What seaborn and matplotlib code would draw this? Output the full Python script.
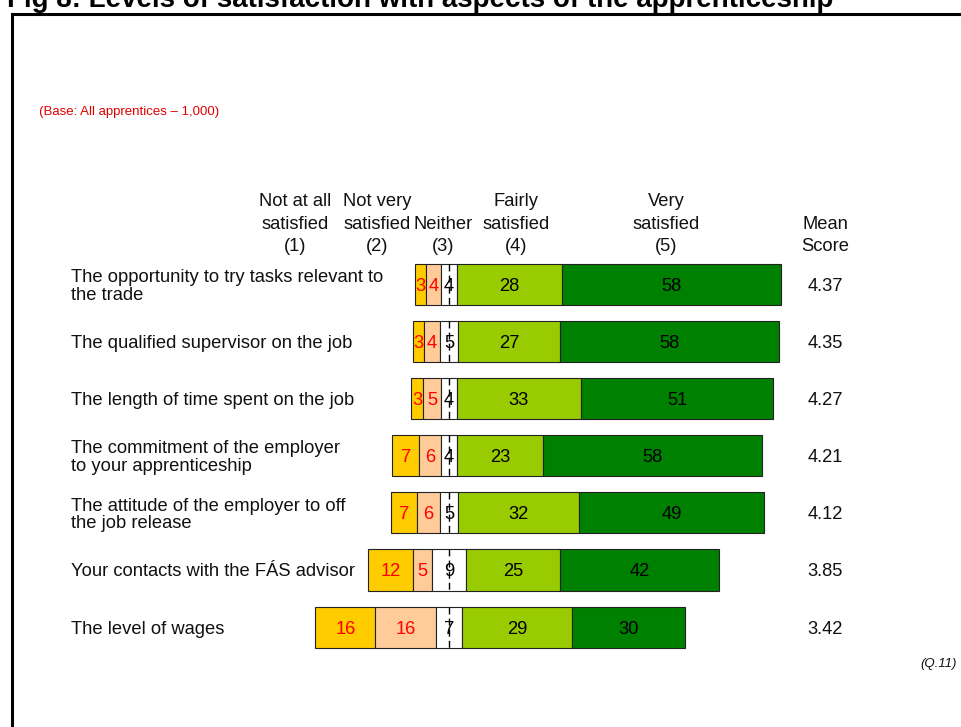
import numpy as np
import pandas as pd
import matplotlib
matplotlib.use("Agg")
import matplotlib.pyplot as plt
from matplotlib.patches import Rectangle
import seaborn as sns

# ---- data -------------------------------------------------------------
categories = [
    "The opportunity to try tasks relevant to\nthe trade",
    "The qualified supervisor on the job",
    "The length of time spent on the job",
    "The commitment of the employer\nto your apprenticeship",
    "The attitude of the employer to off\nthe job release",
    "Your contacts with the FÁS advisor",
    "The level of wages",
]
not_at_all = [3, 3, 3, 7, 7, 12, 16]
not_very = [4, 4, 5, 6, 6, 5, 16]
neither = [4, 5, 4, 4, 5, 9, 7]
fairly = [28, 27, 33, 23, 32, 25, 29]
very = [58, 58, 51, 58, 49, 42, 30]
mean_scores = [4.37, 4.35, 4.27, 4.21, 4.12, 3.85, 3.42]

header_top = ["Not at all", "Not very", "", "Fairly", "Very", ""]
header_mid = ["satisfied", "satisfied", "Neither", "satisfied", "satisfied", "Mean"]
header_bot = ["(1)", "(2)", "(3)", "(4)", "(5)", "Score"]

title = "Fig 8: Levels of satisfaction with aspects of the apprenticeship"
base_note = "(Base: All apprentices \u2013 1,000)"
source_note = "(Q.11)"

# ---- style ------------------------------------------------------------
sns.set_style("white")
plt.rcParams["font.family"] = ["Liberation Sans", "DejaVu Sans"]

colors = ["#FFCC00", "#FFCC99", "#FFFFFF", "#99CC00", "#008000"]
value_colors = ["#FF0000", "#FF0000", "#000000", "#000000", "#000000"]
FS = 13.2

W, H = 962, 727
fig = plt.figure(figsize=(W / 100, H / 100), dpi=100)
ax = fig.add_axes([0, 0, 1, 1])

# pixel helpers for the annotation layout
UNIT = 3.77          # pixels per percentage point
CX = 449             # pixel column of the neutral midpoint
ROW0, ROWSTEP = 284.5, 57.1


def fx(px):
    return px / W


def fy(py):
    return 1 - py / H


# ---- diverging stacked bars ------------------------------------------
nat = np.array(not_at_all, dtype=float)
nv = np.array(not_very, dtype=float)
ne = np.array(neither, dtype=float)
fa = np.array(fairly, dtype=float)
ve = np.array(very, dtype=float)

layers = [
    (nat, -(ne / 2 + nv + nat)),
    (nv, -(ne / 2 + nv)),
    (ne, -ne / 2),
    (fa, ne / 2),
    (ve, ne / 2 + fa),
]

bar_h = 0.72
for k, (vals, lefts) in enumerate(layers):
    df = pd.DataFrame({"item": categories, "pct": vals})
    sns.barplot(
        data=df, y="item", x="pct", order=categories, orient="h",
        color=colors[k], saturation=1, left=lefts, width=bar_h,
        edgecolor="#222222", linewidth=0.8, errorbar=None, ax=ax,
    )
    for i, (v, l) in enumerate(zip(vals, lefts)):
        ax.text(l + v / 2, i, f"{int(v)}", ha="center", va="center_baseline",
                fontsize=FS, color=value_colors[k], zorder=5)

# dashed neutral midline through each bar
for i in range(len(categories)):
    ax.vlines(0, i - bar_h / 2, i + bar_h / 2, colors="#000000",
              linestyles=(0, (5, 3)), linewidth=1.0, zorder=4)

ax.set_xlim(-CX / UNIT, (W - CX) / UNIT)
ax.set_ylim((H - ROW0) / ROWSTEP, -ROW0 / ROWSTEP)
ax.set_axis_off()

# ---- row labels and mean scores --------------------------------------
for i, (cat, m) in enumerate(zip(categories, mean_scores)):
    y = fy(ROW0 + i * ROWSTEP + 2)
    fig.text(fx(71), y, cat, ha="left", va="center", fontsize=FS,
             color="#111111", linespacing=1.05)
    fig.text(fx(825), y, f"{m:.2f}", ha="center", va="center", fontsize=FS,
             color="#111111")

# ---- column headers --------------------------------------------------
header_x = [295, 377, 443, 516, 666, 825]
for x, t, m, b in zip(header_x, header_top, header_mid, header_bot):
    for line, py in ((t, 202), (m, 224), (b, 246)):
        if line:
            fig.text(fx(x), fy(py), line, ha="center", va="center",
                     fontsize=FS, color="#111111")

# ---- title, notes and frame ------------------------------------------
fig.text(fx(7), fy(7), title, ha="left", va="baseline", fontsize=20,
         fontweight="bold", color="#000000")
fig.text(fx(39), fy(112), base_note, ha="left", va="center", fontsize=9.5,
         color="#E00000")
fig.text(fx(957), fy(664), source_note, ha="right", va="center", fontsize=9.5,
         style="italic", color="#111111")

fig.patches.append(Rectangle((fx(12), -0.1), 2, fy(13.5) + 0.1,
                             transform=fig.transFigure, fill=False,
                             edgecolor="#000000", linewidth=2.2))

fig.savefig("out.png", dpi=100)
